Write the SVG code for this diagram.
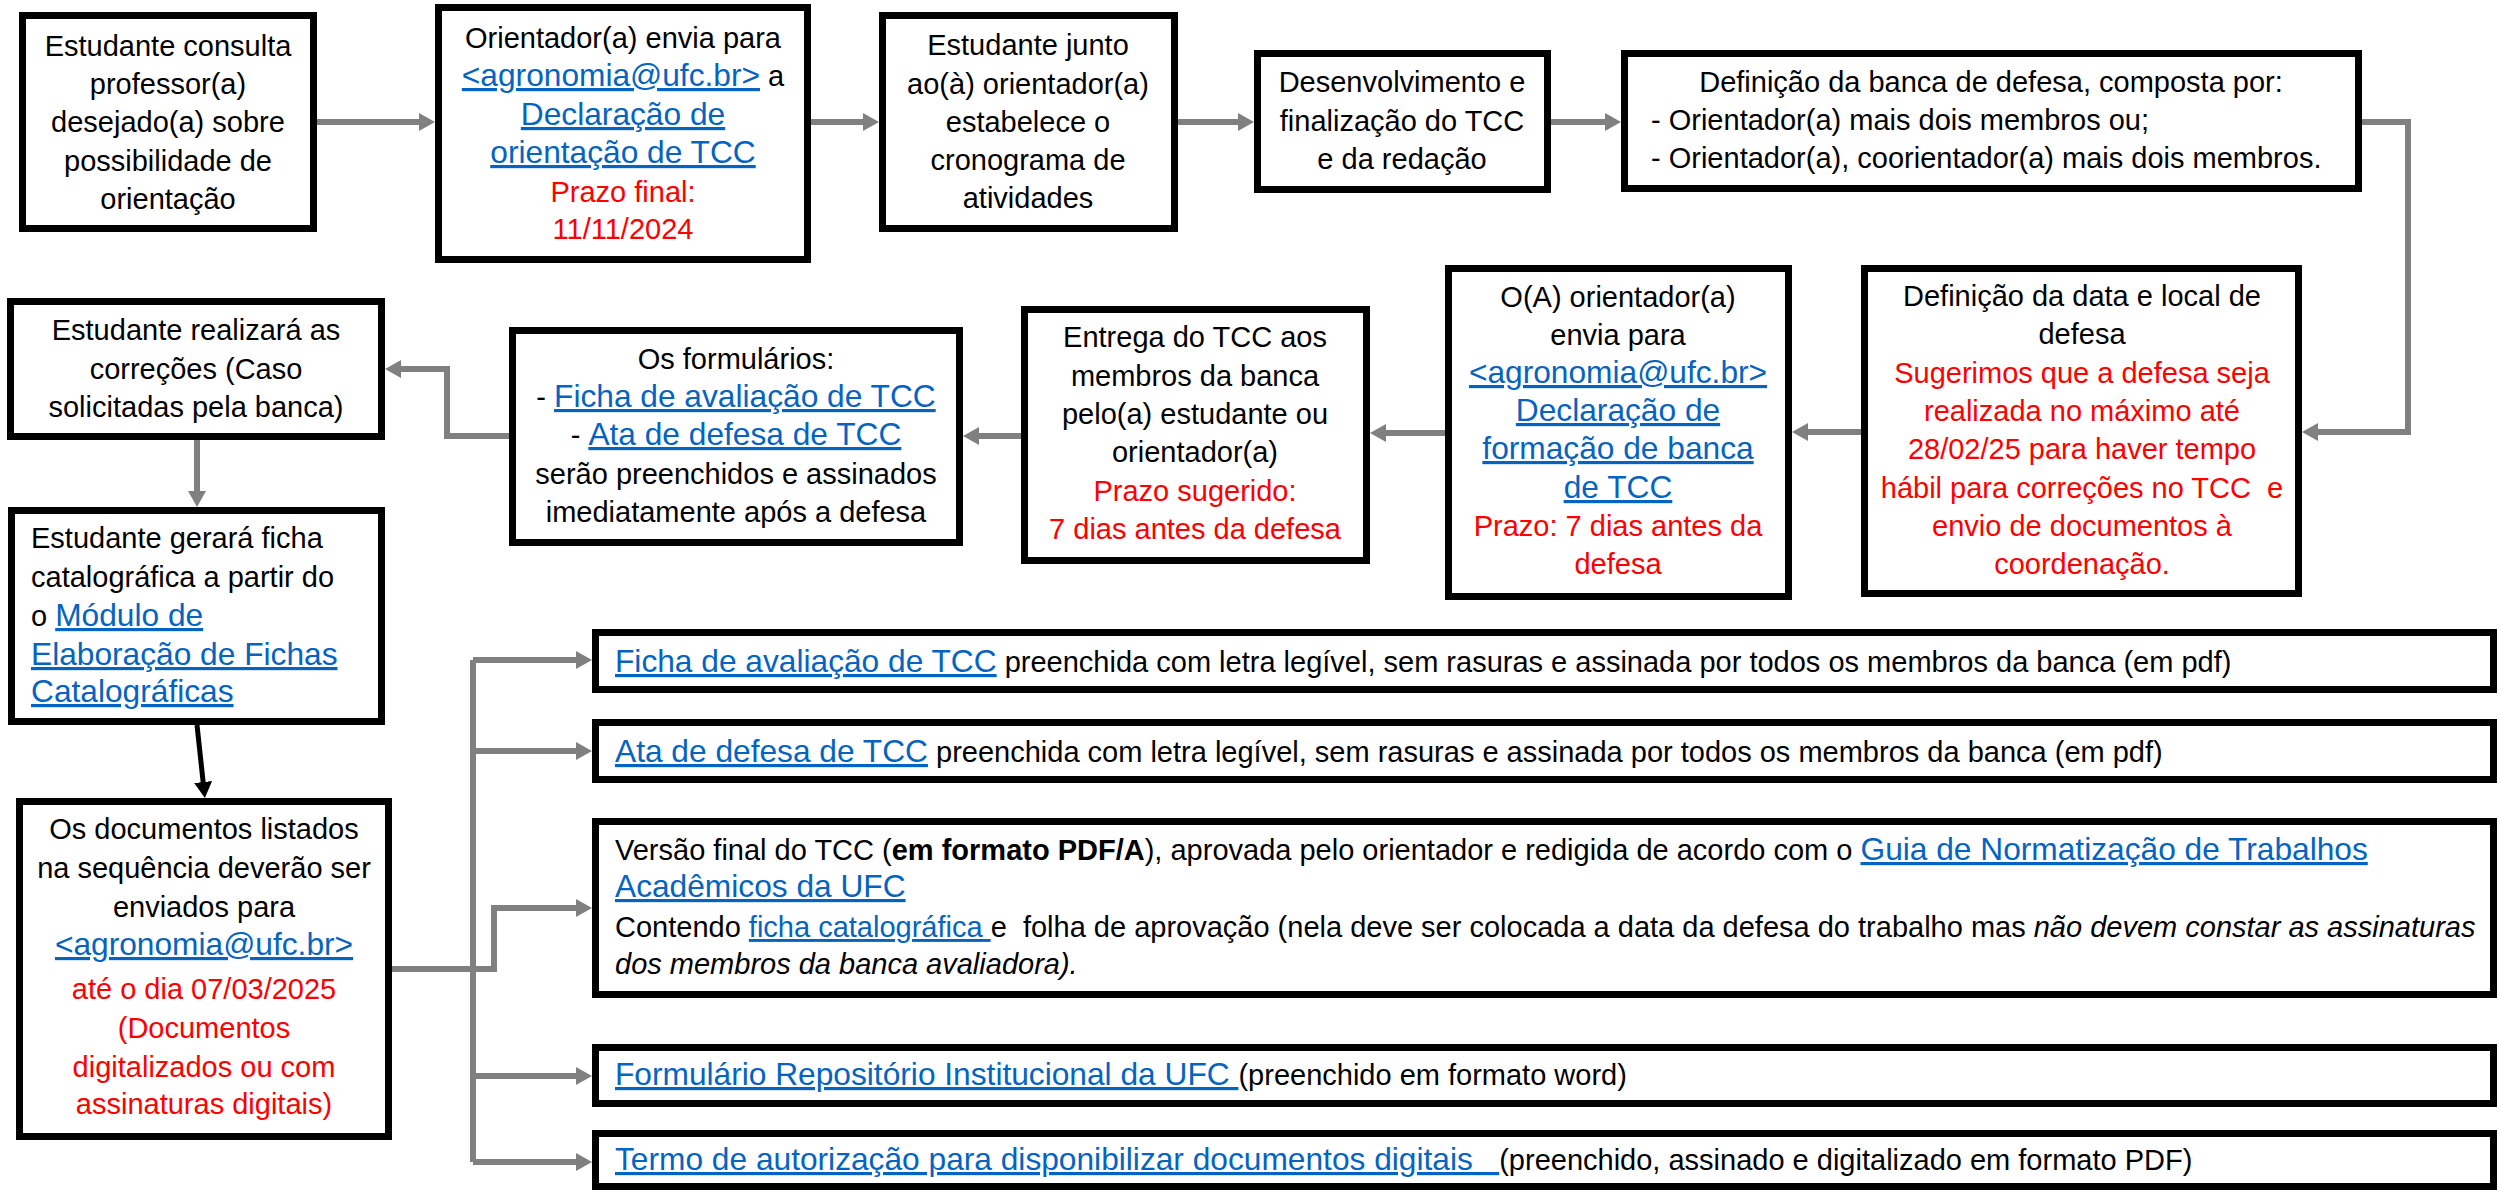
<svg xmlns="http://www.w3.org/2000/svg" width="2501" height="1191" viewBox="0 0 2501 1191">
<defs>
<marker id="ah" markerUnits="userSpaceOnUse" markerWidth="16" markerHeight="18" refX="8" refY="9" orient="auto"><path d="M0,0 L16,9 L0,18 Z" fill="#808080"/></marker>
<marker id="ahk" markerUnits="userSpaceOnUse" markerWidth="16" markerHeight="18" refX="8" refY="9" orient="auto"><path d="M0,0 L16,9 L0,18 Z" fill="#000"/></marker>
<style>
.box{fill:#fff;stroke:#000;stroke-width:7}
.t{font-family:"Liberation Sans",Arial,sans-serif;font-size:29px;fill:#000}
.c{text-anchor:middle}
.r{fill:#f00}
.l{fill:#0563c1;text-decoration:underline;font-size:31.7px}
.ls{fill:#0563c1;text-decoration:underline}
.b{font-weight:bold}
.i{font-style:italic}
.con{fill:none;stroke:#808080;stroke-width:6}
.conk{fill:none;stroke:#000;stroke-width:5}
</style>
</defs>
<rect width="2501" height="1191" fill="#fff"/>
<g id="connectors">
<path class="con" d="M317,122 H427" marker-end="url(#ah)"/>
<path class="con" d="M811,122 H871" marker-end="url(#ah)"/>
<path class="con" d="M1178,122 H1246" marker-end="url(#ah)"/>
<path class="con" d="M1551,122 H1613" marker-end="url(#ah)"/>
<path class="con" d="M2362,122 H2408 V432 H2310" marker-end="url(#ah)"/>
<path class="con" d="M1861,432 H1800" marker-end="url(#ah)"/>
<path class="con" d="M1445,433 H1378" marker-end="url(#ah)"/>
<path class="con" d="M1021,436 H971" marker-end="url(#ah)"/>
<path class="con" d="M509,436 H447 V369 H393" marker-end="url(#ah)"/>
<path class="con" d="M197,440 V499" marker-end="url(#ah)"/>
<path class="conk" d="M197,725 L204,790" marker-end="url(#ahk)"/>
<path class="con" d="M473,660 V1162"/>
<path class="con" d="M392,969 H494 V908 H584" marker-end="url(#ah)"/>
<path class="con" d="M473,660 H584" marker-end="url(#ah)"/>
<path class="con" d="M473,751 H584" marker-end="url(#ah)"/>
<path class="con" d="M473,1076 H584" marker-end="url(#ah)"/>
<path class="con" d="M473,1162 H584" marker-end="url(#ah)"/>
</g>
<g id="n1">
<rect class="box" x="22.5" y="15.5" width="291" height="213"/>
<text class="t c"><tspan x="168" y="56">Estudante consulta</tspan><tspan x="168" y="94">professor(a)</tspan><tspan x="168" y="132">desejado(a) sobre</tspan><tspan x="168" y="171">possibilidade de</tspan><tspan x="168" y="209">orientação</tspan></text>
</g>
<g id="n2">
<rect class="box" x="438.5" y="7.5" width="369" height="252"/>
<text class="t c"><tspan x="623" y="48">Orientador(a) envia para</tspan><tspan x="623" y="86"><tspan class="l">&lt;agronomia@ufc.br&gt;</tspan> a</tspan><tspan x="623" y="125" class="l">Declaração de</tspan><tspan x="623" y="163" class="l">orientação de TCC</tspan><tspan x="623" y="202" class="r">Prazo final:</tspan><tspan x="623" y="239" class="r">11/11/2024</tspan></text>
</g>
<g id="n3">
<rect class="box" x="882.5" y="15.5" width="292" height="213"/>
<text class="t c"><tspan x="1028" y="55">Estudante junto</tspan><tspan x="1028" y="94">ao(à) orientador(a)</tspan><tspan x="1028" y="132">estabelece o</tspan><tspan x="1028" y="170">cronograma de</tspan><tspan x="1028" y="208">atividades</tspan></text>
</g>
<g id="n4">
<rect class="box" x="1257.5" y="53.5" width="290" height="136"/>
<text class="t c"><tspan x="1402" y="92">Desenvolvimento e</tspan><tspan x="1402" y="131">finalização do TCC</tspan><tspan x="1402" y="169">e da redação</tspan></text>
</g>
<g id="n5">
<rect class="box" x="1624.5" y="53.5" width="734" height="135"/>
<text class="t c" x="1991" y="92">Definição da banca de defesa, composta por:</text>
<text class="t"><tspan x="1651" y="130">- Orientador(a) mais dois membros ou;</tspan><tspan x="1651" y="168">- Orientador(a), coorientador(a) mais dois membros.</tspan></text>
</g>
<g id="n6">
<rect class="box" x="1864.5" y="268.5" width="434" height="325"/>
<text class="t c" xml:space="preserve"><tspan x="2082" y="306">Definição da data e local de</tspan><tspan x="2082" y="344">defesa</tspan><tspan class="r" x="2082" y="383">Sugerimos que a defesa seja</tspan><tspan class="r" x="2082" y="421">realizada no máximo até</tspan><tspan class="r" x="2082" y="459">28/02/25 para haver tempo</tspan><tspan class="r" x="2082" y="498">hábil para correções no TCC  e</tspan><tspan class="r" x="2082" y="536">envio de documentos à</tspan><tspan class="r" x="2082" y="574">coordenação.</tspan></text>
</g>
<g id="n7">
<rect class="box" x="1448.5" y="268.5" width="340" height="328"/>
<text class="t c"><tspan x="1618" y="307">O(A) orientador(a)</tspan><tspan x="1618" y="345">envia para</tspan><tspan class="l" x="1618" y="383">&lt;agronomia@ufc.br&gt;</tspan><tspan class="l" x="1618" y="421">Declaração de</tspan><tspan class="l" x="1618" y="459">formação de banca</tspan><tspan class="l" x="1618" y="498">de TCC</tspan><tspan class="r" x="1618" y="536">Prazo: 7 dias antes da</tspan><tspan class="r" x="1618" y="574">defesa</tspan></text>
</g>
<g id="n8">
<rect class="box" x="1024.5" y="309.5" width="342" height="251"/>
<text class="t c"><tspan x="1195" y="347">Entrega do TCC aos</tspan><tspan x="1195" y="386">membros da banca</tspan><tspan x="1195" y="424">pelo(a) estudante ou</tspan><tspan x="1195" y="462">orientador(a)</tspan><tspan class="r" x="1195" y="501">Prazo sugerido:</tspan><tspan class="r" x="1195" y="539">7 dias antes da defesa</tspan></text>
</g>
<g id="n9">
<rect class="box" x="512.5" y="330.5" width="447" height="212"/>
<text class="t c" xml:space="preserve"><tspan x="736" y="369">Os formulários:</tspan><tspan x="736" y="407">- <tspan class="l">Ficha de avaliação de TCC</tspan></tspan><tspan x="736" y="445">- <tspan class="l">Ata de defesa de TCC</tspan></tspan><tspan x="736" y="484">serão preenchidos e assinados</tspan><tspan x="736" y="522">imediatamente após a defesa</tspan></text>
</g>
<g id="n10">
<rect class="box" x="10.5" y="301.5" width="371" height="135"/>
<text class="t c"><tspan x="196" y="340">Estudante realizará as</tspan><tspan x="196" y="379">correções (Caso</tspan><tspan x="196" y="417">solicitadas pela banca)</tspan></text>
</g>
<g id="n11">
<rect class="box" x="11.5" y="510.5" width="370" height="211"/>
<text class="t" xml:space="preserve"><tspan x="31" y="548">Estudante gerará ficha</tspan><tspan x="31" y="587">catalográfica a partir do</tspan><tspan x="31" y="626">o <tspan class="l">Módulo de</tspan></tspan><tspan class="l" x="31" y="665">Elaboração de Fichas</tspan><tspan class="l" x="31" y="702">Catalográficas</tspan></text>
</g>
<g id="n12">
<rect class="box" x="19.5" y="801.5" width="369" height="335"/>
<text class="t c"><tspan x="204" y="839">Os documentos listados</tspan><tspan x="204" y="878">na sequência deverão ser</tspan><tspan x="204" y="917">enviados para</tspan><tspan class="l" x="204" y="955">&lt;agronomia@ufc.br&gt;</tspan><tspan class="r" x="204" y="999">até o dia 07/03/2025</tspan><tspan class="r" x="204" y="1038">(Documentos</tspan><tspan class="r" x="204" y="1077">digitalizados ou com</tspan><tspan class="r" x="204" y="1114">assinaturas digitais)</tspan></text>
</g>
<g id="d1">
<rect class="box" x="595.5" y="632.5" width="1898" height="57"/>
<text class="t" x="615" y="672" xml:space="preserve"><tspan class="l">Ficha de avaliação de TCC</tspan> preenchida com letra legível, sem rasuras e assinada por todos os membros da banca (em pdf)</text>
</g>
<g id="d2">
<rect class="box" x="595.5" y="722.5" width="1898" height="57"/>
<text class="t" x="615" y="762" xml:space="preserve"><tspan class="l">Ata de defesa de TCC</tspan> preenchida com letra legível, sem rasuras e assinada por todos os membros da banca (em pdf)</text>
</g>
<g id="d3">
<rect class="box" x="595.5" y="821.5" width="1898" height="173"/>
<text class="t" xml:space="preserve"><tspan x="615" y="860">Versão final do TCC (<tspan class="b">em formato PDF/A</tspan>), aprovada pelo orientador e redigida de acordo com o <tspan class="l">Guia de Normatização de Trabalhos</tspan></tspan><tspan class="l" x="615" y="897">Acadêmicos da UFC</tspan><tspan x="615" y="937">Contendo <tspan class="ls">ficha catalográfica </tspan>e  folha de aprovação (nela deve ser colocada a data da defesa do trabalho mas <tspan class="i">não devem constar as assinaturas</tspan></tspan><tspan class="i" x="615" y="974">dos membros da banca avaliadora).</tspan></text>
</g>
<g id="d4">
<rect class="box" x="595.5" y="1047.5" width="1898" height="56"/>
<text class="t" x="615" y="1085" xml:space="preserve"><tspan class="l">Formulário Repositório Institucional da UFC </tspan>(preenchido em formato word)</text>
</g>
<g id="d5">
<rect class="box" x="595.5" y="1133.5" width="1898" height="53"/>
<text class="t" x="615" y="1170" xml:space="preserve"><tspan class="l">Termo de autorização para disponibilizar documentos digitais   </tspan>(preenchido, assinado e digitalizado em formato PDF)</text>
</g>
</svg>
